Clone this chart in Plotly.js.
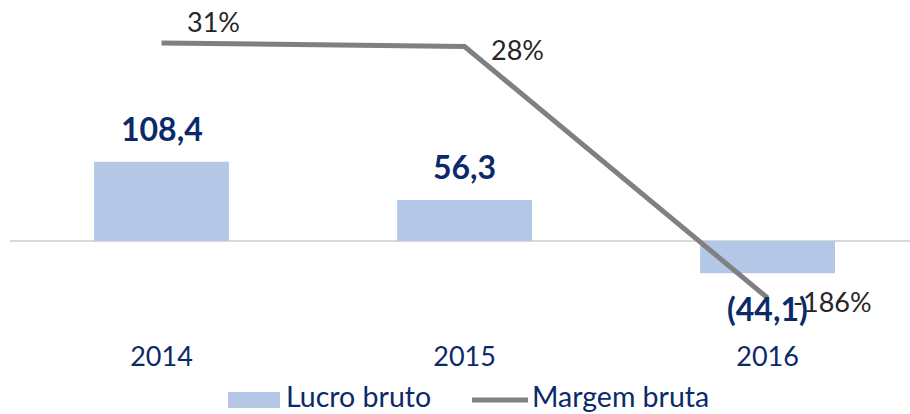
<!DOCTYPE html>
<html>
<head>
<meta charset="utf-8">
<script src="https://cdn.plot.ly/plotly-3.0.1.min.js"></script>
<style>html,body{margin:0;padding:0;background:#fff;}#chart{width:910px;height:414px;}</style>
</head>
<body>
<div id="chart"></div>
<script>
// ---- data ----
const categories = ['2014', '2015', '2016'];
const lucroBruto = [108.4, 56.3, -44.1];
const margemBruta = [31, 28, -186];
const seriesNames = ['Lucro bruto', 'Margem bruta'];

// ---- helpers ----
function fmtVal(v) {
  const s = Math.abs(v).toFixed(1).replace('.', ',');
  return v < 0 ? '(' + s + ')' : s;
}
function fmtPct(v) { return v + '%'; }

const W = 910, H = 414, ML = 10, MR = 0, MT = 0, MB = 94;
const PW = W - ML - MR, PH = H - MT - MB;
const px2x = p => (p - ML) / PW;
const px2y = p => (H - MB - p) / PH;

const navy = '#0b2a6a';
const FONT = 'Lato, "Open Sans", sans-serif';

const bars = {
  type: 'bar', x: categories, y: lucroBruto, name: seriesNames[0],
  marker: {color: '#b4c7e7'}, width: 0.445, yaxis: 'y', showlegend: false,
  hoverinfo: 'skip'
};
const line = {
  type: 'scatter', mode: 'lines', x: categories, y: margemBruta, name: seriesNames[1],
  line: {color: '#808080', width: 5}, yaxis: 'y2', showlegend: false,
  cliponaxis: false, hoverinfo: 'skip'
};

const annotations = [];
categories.forEach((c, i) => {
  const v = lucroBruto[i];
  annotations.push({
    x: i, y: v, xref: 'x', yref: 'y', text: '<b>' + fmtVal(v) + '</b>',
    showarrow: false, xanchor: 'center', yanchor: 'middle', yshift: v >= 0 ? 33 : -35,
    font: {family: FONT, size: 32, color: navy}
  });
});
const pctShift = [[23, 22], [24, -3], [23, -4]];
categories.forEach((c, i) => {
  annotations.push({
    x: i, y: margemBruta[i], xref: 'x', yref: 'y2', text: fmtPct(margemBruta[i]),
    showarrow: false, xanchor: 'left', yanchor: 'middle',
    xshift: pctShift[i][0], yshift: pctShift[i][1],
    font: {family: FONT, size: 27, color: '#262626'}
  });
});
// legend texts
annotations.push({
  x: px2x(285), y: px2y(414), xref: 'paper', yref: 'paper', text: seriesNames[0],
  showarrow: false, xanchor: 'left', yanchor: 'bottom', borderpad: 0,
  font: {family: FONT, size: 28.5, color: navy}
});
annotations.push({
  x: px2x(531), y: px2y(414), xref: 'paper', yref: 'paper', text: seriesNames[1],
  showarrow: false, xanchor: 'left', yanchor: 'bottom', borderpad: 0,
  font: {family: FONT, size: 28.5, color: navy}
});

const shapes = [
  {type: 'rect', xref: 'paper', yref: 'paper', x0: px2x(228), x1: px2x(280), y0: px2y(408), y1: px2y(392),
   fillcolor: '#b4c7e7', line: {width: 0}},
  {type: 'line', xref: 'paper', yref: 'paper', x0: px2x(472), x1: px2x(528), y0: px2y(400), y1: px2y(400),
   line: {color: '#808080', width: 5}}
];

const layout = {
  width: W, height: H,
  margin: {l: ML, r: MR, t: MT, b: MB, pad: 0},
  paper_bgcolor: '#fff', plot_bgcolor: '#fff',
  showlegend: false,
  xaxis: {
    type: 'category', range: [-0.5, 2.47], showgrid: false, zeroline: false, showline: false,
    ticks: '', tickfont: {family: FONT, size: 27, color: navy}, ticklabelstandoff: 18
  },
  yaxis: {
    range: [-108.2, 330.1], showgrid: false, showticklabels: false, ticks: '',
    zeroline: true, zerolinecolor: '#d9d9d9', zerolinewidth: 2
  },
  yaxis2: {
    range: [-204.8, 67.6], overlaying: 'y', side: 'right', visible: false,
    showgrid: false, zeroline: false
  },
  annotations: annotations,
  shapes: shapes
};

Plotly.newPlot('chart', [bars, line], layout, {staticPlot: true, displayModeBar: false});
</script>
</body>
</html>
